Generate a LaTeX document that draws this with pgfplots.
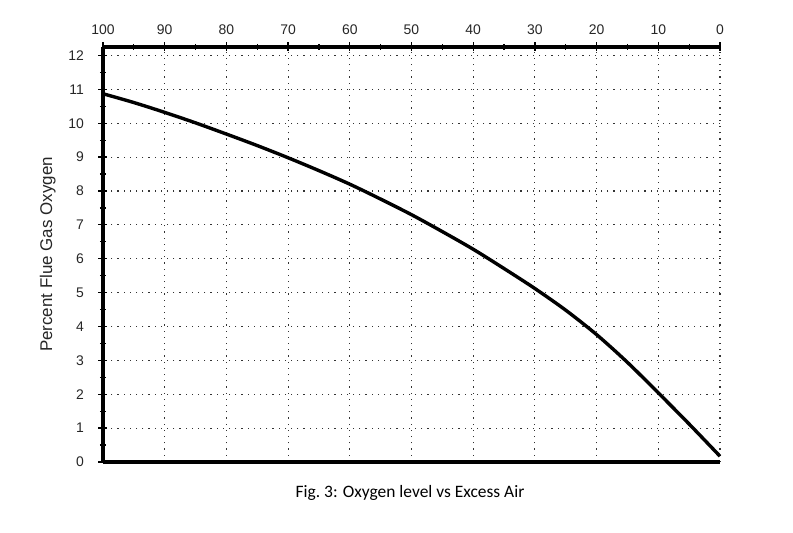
\documentclass[border=0pt]{standalone}
\usepackage{pgfplots}
\pgfplotsset{compat=1.18}
\usepackage{fontspec}
\setmainfont{Liberation Sans}
\newfontfamily\capfont{Carlito}
\begin{document}
\begin{tikzpicture}[x=1bp,y=1bp]
\path[use as bounding box] (0,0) rectangle (793,533);
\begin{axis}[
  at={(103bp,71bp)}, anchor=south west,
  scale only axis, width=617bp, height=415bp,
  xmin=0, xmax=100, ymin=0, ymax=12.25,
  x dir=reverse,
  axis x line*=top, axis y line*=left,
  axis line style={line width=3.2bp, -},
  xtick={0,10,...,100}, ytick={0,1,...,12},
  minor x tick num=1, minor y tick num=1,
  tick align=center,
  major tick length=9bp, minor tick length=6bp,
  tick style={black, line width=1.3bp},
  grid=major,
  major grid style={black!80, line width=1.1bp, dash pattern=on 1.2bp off 5bp},
  /pgf/number format/assume math mode=true,
  ticklabel style={font=\fontsize{14}{16}\selectfont, text=black!85},
  xticklabel style={yshift=4bp},
  yticklabel style={xshift=-11bp},
  ylabel={Percent Flue Gas Oxygen},
  ylabel style={font=\fontsize{17}{19}\selectfont, text=black!85, yshift=6bp},
  clip=false,
]
\addplot[black, line width=3.4bp, smooth, tension=0.5] coordinates {
(100,10.87) (95,10.61) (90,10.32) (85,10.01) (80,9.68) (75,9.34) (70,8.98)
(65,8.6) (60,8.2) (55,7.76) (50,7.3) (45,6.8) (40,6.28) (35,5.71)
(30,5.12) (25,4.48) (20,3.76) (15,2.94) (10,2.04) (5,1.12) (0,0.17)
};
\draw[line width=3.2bp] (rel axis cs:0,0) -- (rel axis cs:1,0);
\end{axis}
\node[font=\capfont\fontsize{17.5}{20}\selectfont] at (410,40) {Fig.\ 3: Oxygen level vs Excess Air};
\end{tikzpicture}
\end{document}
